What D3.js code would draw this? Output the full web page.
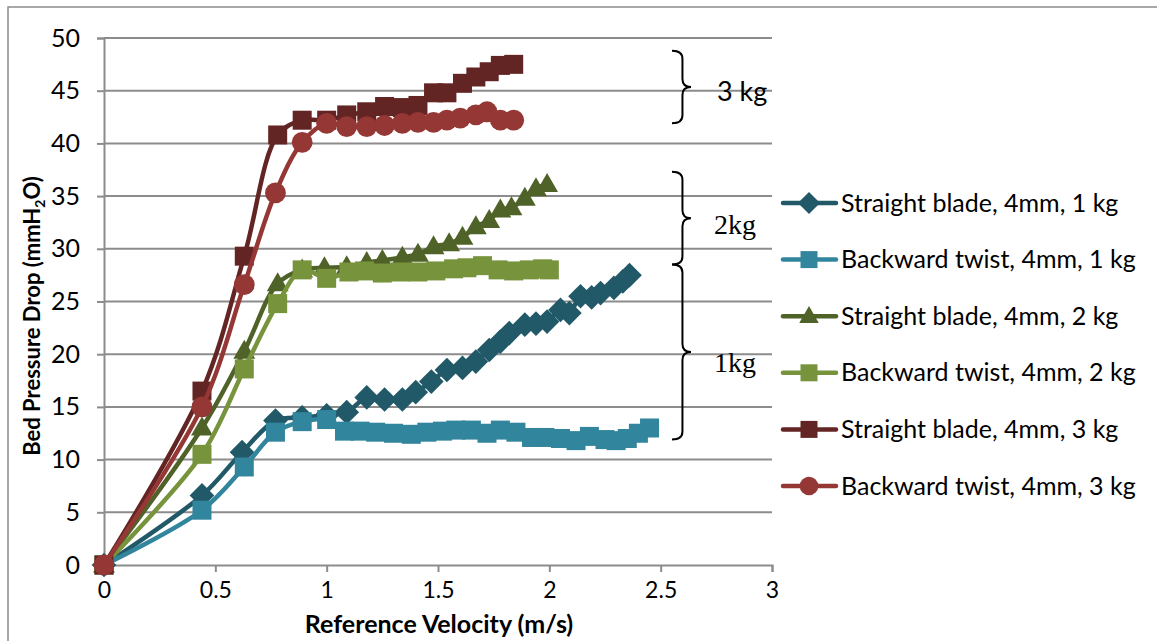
<!DOCTYPE html>
<html>
<head>
<meta charset="utf-8">
<script src="https://cdn.jsdelivr.net/npm/d3@7"></script>
<style>
  body { margin: 0; background: #fff; }
  svg { display: block; }
  text { fill: #000; }
</style>
</head>
<body>
<script>
// Reference velocity (m/s) and bed pressure drop (mmH2O) for each run
const sb1X = [0, 0.44, 0.62, 0.77, 0.89, 1.0, 1.09, 1.18, 1.26, 1.34, 1.40, 1.47, 1.54, 1.61, 1.67, 1.73, 1.78, 1.82, 1.89, 1.94, 1.99, 2.05, 2.09, 2.14, 2.19, 2.23, 2.29, 2.33, 2.36];
const sb1Y = [0, 6.6, 10.7, 13.7, 14.0, 14.2, 14.5, 15.9, 15.7, 15.7, 16.4, 17.4, 18.5, 18.7, 19.3, 20.4, 21.2, 22.0, 22.8, 22.9, 23.1, 24.2, 23.9, 25.5, 25.4, 25.8, 26.3, 26.9, 27.5];

const bt1X = [0, 0.44, 0.63, 0.77, 0.89, 1.0, 1.08, 1.15, 1.22, 1.30, 1.38, 1.45, 1.52, 1.58, 1.65, 1.72, 1.78, 1.85, 1.92, 1.98, 2.05, 2.12, 2.18, 2.25, 2.30, 2.35, 2.40, 2.45];
const bt1Y = [0, 5.2, 9.3, 12.6, 13.6, 13.8, 12.7, 12.7, 12.6, 12.5, 12.4, 12.6, 12.7, 12.8, 12.8, 12.5, 12.8, 12.6, 12.1, 12.1, 12.0, 11.8, 12.2, 11.9, 11.8, 12.0, 12.5, 13.0];

const sb2X = [0, 0.44, 0.63, 0.78, 0.89, 0.99, 1.09, 1.18, 1.25, 1.34, 1.41, 1.48, 1.55, 1.61, 1.67, 1.73, 1.78, 1.83, 1.89, 1.94, 1.99];
const sb2Y = [0, 13.0, 20.3, 26.7, 28.0, 28.2, 28.3, 28.7, 28.9, 29.2, 29.5, 30.2, 30.5, 31.1, 32.1, 32.7, 33.7, 33.9, 34.8, 35.7, 36.1];

const bt2X = [0, 0.44, 0.63, 0.78, 0.89, 1.0, 1.1, 1.17, 1.25, 1.33, 1.41, 1.49, 1.57, 1.63, 1.7, 1.77, 1.84, 1.91, 1.97, 2.0];
const bt2Y = [0, 10.5, 18.6, 24.8, 28.0, 27.2, 27.8, 27.9, 27.7, 27.8, 27.8, 27.9, 28.1, 28.2, 28.4, 28.0, 27.9, 28.0, 28.1, 28.0];

const sb3X = [0, 0.44, 0.63, 0.78, 0.89, 1.0, 1.09, 1.18, 1.26, 1.34, 1.41, 1.48, 1.54, 1.61, 1.67, 1.73, 1.78, 1.84];
const sb3Y = [0, 16.5, 29.3, 40.8, 42.2, 42.2, 42.7, 43.0, 43.5, 43.4, 43.6, 44.8, 44.8, 45.7, 46.3, 46.8, 47.4, 47.5];

const bt3X = [0, 0.44, 0.63, 0.77, 0.89, 1.0, 1.09, 1.18, 1.26, 1.34, 1.41, 1.48, 1.54, 1.60, 1.67, 1.72, 1.78, 1.84];
const bt3Y = [0, 15.0, 26.6, 35.3, 40.1, 41.9, 41.6, 41.6, 41.7, 41.9, 42.0, 42.0, 42.2, 42.4, 42.7, 43.0, 42.2, 42.2];

const seriesNames = [
    "Straight blade, 4mm, 1 kg",
    "Backward twist, 4mm, 1 kg",
    "Straight blade, 4mm, 2 kg",
    "Backward twist, 4mm, 2 kg",
    "Straight blade, 4mm, 3 kg",
    "Backward twist, 4mm, 3 kg"
];
const seriesX = [sb1X, bt1X, sb2X, bt2X, sb3X, bt3X];
const seriesY = [sb1Y, bt1Y, sb2Y, bt2Y, sb3Y, bt3Y];

const xTicks = [0, 0.5, 1, 1.5, 2, 2.5, 3];
const yTicks = [0, 5, 10, 15, 20, 25, 30, 35, 40, 45, 50];

// bracket annotations: label, low and high value of the brace
const braceLabels = ["3 kg", "2kg", "1kg"];
const braceTop = [48.8, 37.3, 28.5];
const braceBottom = [41.9, 28.5, 11.9];

const colors = ["#215968", "#31859C", "#4F6228", "#77933C", "#632523", "#953735"];
const shapes = ["diamond", "square", "triangle", "square", "square", "circle"];

const sansFont = "Lato, 'Open Sans', sans-serif";
const serifFont = "'Liberation Serif', 'DejaVu Serif', serif";

const width = 1157, height = 641;
const margin = { left: 104, right: 385, top: 38, bottom: 76 };

const svg = d3.select("body").append("svg")
    .attr("width", width)
    .attr("height", height)
    .style("font-family", sansFont);

// chart frame
svg.append("rect")
    .attr("x", 8).attr("y", 7)
    .attr("width", 1200).attr("height", 700)
    .attr("fill", "#fff")
    .attr("stroke", "#8c8c8c")
    .attr("stroke-width", 1.5);

const x = d3.scaleLinear().domain([0, 3]).range([margin.left, width - margin.right]);
const y = d3.scaleLinear().domain([0, 50]).range([height - margin.bottom, margin.top]);

const gridColor = "#8c8c8c";

// horizontal gridlines + y axis
const yAxis = d3.axisLeft(y).tickValues(yTicks).tickSize(7).tickPadding(17).tickFormat(d3.format("d"));
const yg = svg.append("g")
    .attr("transform", `translate(${margin.left},0)`)
    .call(yAxis);
yg.select(".domain").attr("stroke", gridColor).attr("stroke-width", 2);
yg.selectAll(".tick line").attr("stroke", gridColor).attr("stroke-width", 2);
yg.selectAll(".tick text").style("font-size", "25px").style("font-family", sansFont).attr("fill", "#000");

svg.append("g")
    .selectAll("line")
    .data(yTicks.slice(1))
    .enter().append("line")
    .attr("x1", x(0)).attr("x2", x(3))
    .attr("y1", d => y(d)).attr("y2", d => y(d))
    .attr("stroke", gridColor)
    .attr("stroke-width", 2);

const xAxis = d3.axisBottom(x).tickValues(xTicks).tickSize(7).tickPadding(10).tickFormat(d => d);
const xg = svg.append("g")
    .attr("transform", `translate(0,${y(0)})`)
    .call(xAxis);
xg.select(".domain").attr("stroke", gridColor).attr("stroke-width", 2);
xg.selectAll(".tick line").attr("stroke", gridColor).attr("stroke-width", 2);
xg.selectAll(".tick text").style("font-size", "23px").style("font-family", sansFont).attr("fill", "#000");

// axis titles
svg.append("text")
    .attr("x", 439)
    .attr("y", 633)
    .attr("text-anchor", "middle")
    .style("font-weight", "bold")
    .style("font-size", "25px")
    .text("Reference Velocity (m/s)");

const yTitle = svg.append("text")
    .attr("transform", "translate(40,316) rotate(-90)")
    .attr("text-anchor", "middle")
    .style("font-weight", "bold")
    .style("font-size", "22px");
yTitle.append("tspan").text("Bed Pressure Drop (mmH");
yTitle.append("tspan").style("font-size", "14px").attr("dy", 5).text("2");
yTitle.append("tspan").attr("dy", -5).text("O)");

// marker shapes
function markerPath(shape, s) {
    if (shape === "square") return `M${-s},${-s}H${s}V${s}H${-s}Z`;
    if (shape === "diamond") return `M0,${-s * 1.3}L${s * 1.3},0L0,${s * 1.3}L${-s * 1.3},0Z`;
    if (shape === "triangle") return `M0,${-s * 1.2}L${s * 1.15},${s * 0.8}L${-s * 1.15},${s * 0.8}Z`;
    return d3.symbol(d3.symbolCircle, Math.PI * s * s * 1.2)();
}

const line = d3.line()
    .x(d => x(d[0]))
    .y(d => y(d[1]))
    .curve(d3.curveCatmullRom.alpha(0.5));

seriesNames.forEach((name, i) => {
    const pts = seriesX[i].map((v, j) => [v, seriesY[i][j]]);
    const g = svg.append("g").attr("class", "series");
    g.append("path")
        .datum(pts)
        .attr("d", line)
        .attr("fill", "none")
        .attr("stroke", colors[i])
        .attr("stroke-width", 4.5);
    g.selectAll("path.mk")
        .data(pts)
        .enter().append("path")
        .attr("class", "mk")
        .attr("transform", d => `translate(${x(d[0])},${y(d[1])})`)
        .attr("d", markerPath(shapes[i], 9.5))
        .attr("fill", colors[i]);
});

// legend
const legend = svg.append("g");
seriesNames.forEach((name, i) => {
    const ly = 203 + i * 56.6;
    legend.append("line")
        .attr("x1", 783).attr("x2", 836)
        .attr("y1", ly).attr("y2", ly)
        .attr("stroke", colors[i])
        .attr("stroke-width", 4.5)
        .attr("stroke-linecap", "round");
    legend.append("path")
        .attr("transform", `translate(809,${ly})`)
        .attr("d", markerPath(shapes[i], 8.5))
        .attr("fill", colors[i]);
    legend.append("text")
        .attr("x", 841)
        .attr("y", ly + 8.5)
        .style("font-size", "25px")
        .text(name);
});

// curly braces grouping the runs by mass
function bracePath(x0, top, bottom, w) {
    const mid = (top + bottom) / 2;
    const xc = x0 + w * 0.55;
    const r = Math.min(8, (bottom - top) / 6);
    return `M${x0},${top} Q${xc},${top} ${xc},${top + r}` +
        ` V${mid - r} Q${xc},${mid} ${x0 + w},${mid}` +
        ` Q${xc},${mid} ${xc},${mid + r}` +
        ` V${bottom - r} Q${xc},${bottom} ${x0},${bottom}`;
}

braceLabels.forEach((lab, i) => {
    const t = y(braceTop[i]), b = y(braceBottom[i]);
    svg.append("path")
        .attr("d", bracePath(672, t, b, 19))
        .attr("fill", "none")
        .attr("stroke", "#000")
        .attr("stroke-width", 2);
    svg.append("text")
        .attr("x", i === 0 ? 717 : 714)
        .attr("y", (t + b) / 2 + [14, 16, 20][i])
        .style("font-family", i === 0 ? sansFont : serifFont)
        .style("font-size", i === 0 ? "27px" : "28px")
        .text(lab);
});
</script>
</body>
</html>
